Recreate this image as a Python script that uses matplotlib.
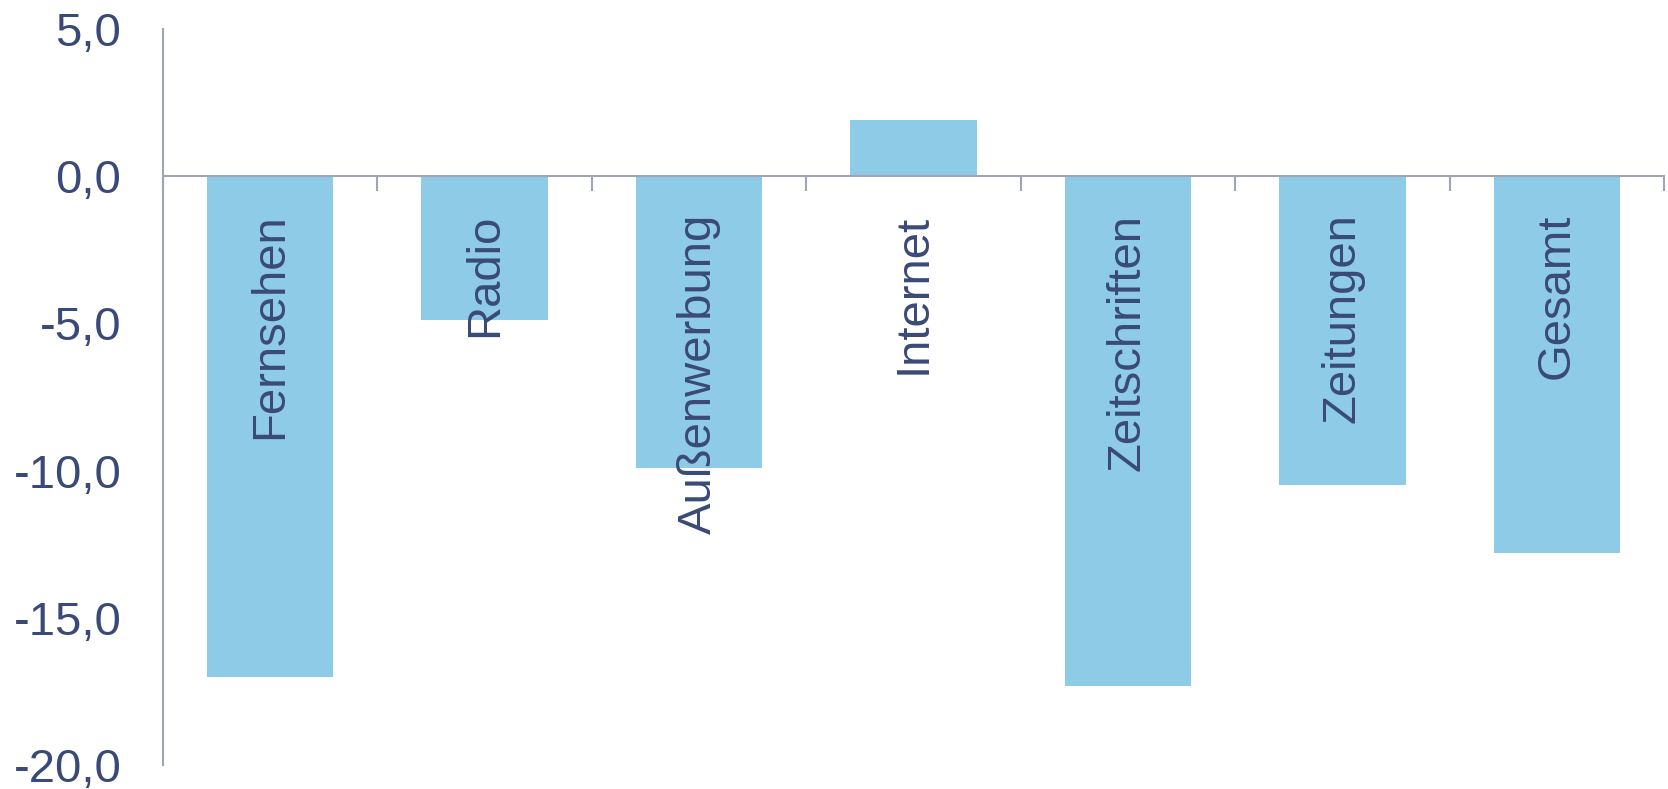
import matplotlib
matplotlib.use("Agg")
import matplotlib.pyplot as plt
import numpy as np

categories = ["Fernsehen", "Radio", "Außenwerbung", "Internet", "Zeitschriften", "Zeitungen", "Gesamt"]
values = [-17.0, -4.9, -9.9, 1.9, -17.3, -10.5, -12.8]
yticks = [5, 0, -5, -10, -15, -20]
ytick_labels = ["5,0", "0,0", "-5,0", "-10,0", "-15,0", "-20,0"]

plt.rcParams['font.family'] = ['Liberation Sans', 'DejaVu Sans']
text_color = "#3A4A78"
axis_color = "#A0A4B4"
bar_color = "#8DCBE6"

fig = plt.figure(figsize=(16.68, 7.89), dpi=100)
ax = fig.add_axes([163/1668, 1-765/789, (1664-163)/1668, (765-29)/789])

x = np.arange(len(categories))
ax.bar(x, values, width=0.59, color=bar_color, zorder=2)

ax.set_xlim(-0.5, len(categories) - 0.5)
ax.set_ylim(-20, 5)

for s in ["top", "right"]:
    ax.spines[s].set_visible(False)
ax.spines["bottom"].set_position(("data", 0))
ax.spines["bottom"].set_color(axis_color)
ax.spines["left"].set_color(axis_color)
ax.spines["bottom"].set_linewidth(1.5)
ax.spines["left"].set_linewidth(1.5)
ax.spines["bottom"].set_zorder(3)

ax.set_yticks(yticks)
ax.set_yticklabels(ytick_labels, fontsize=34, color=text_color)
ax.tick_params(axis="y", length=0, pad=30)

ax.set_xticks(np.arange(len(categories) + 1) - 0.5)
ax.set_xticklabels([])
ax.tick_params(axis="x", direction="out", length=11, width=1.5, color=axis_color)

for xi, name in zip(x, categories):
    ax.text(xi, -1.27, name, rotation=90, ha="center", va="top",
            fontsize=34, color=text_color, zorder=4)

fig.savefig("out.png", dpi=100)
